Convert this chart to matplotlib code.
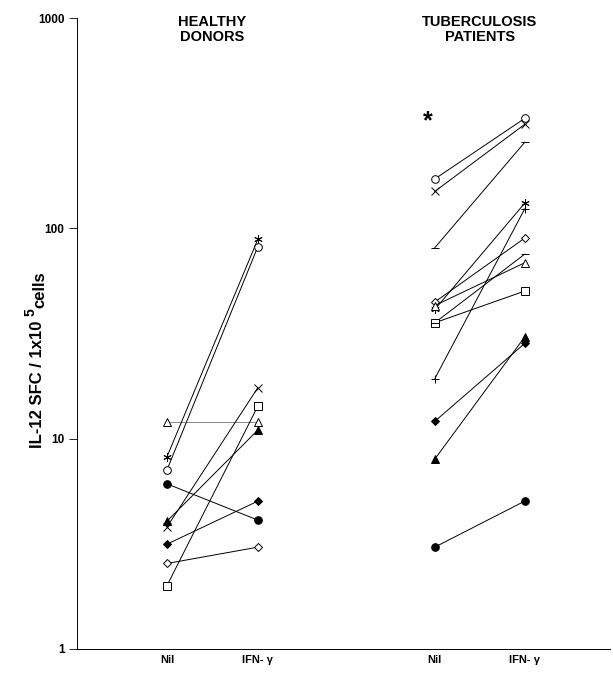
import matplotlib
matplotlib.use("Agg")
import matplotlib.pyplot as plt

plt.rcParams['font.family'] = ['Liberation Sans', 'DejaVu Sans']

# category labels along x
conditions = ['Nil', 'IFN- γ', 'Nil', 'IFN- γ']
groups = ['HEALTHY\nDONORS', 'TUBERCULOSIS\nPATIENTS']

# healthy donors: SFC without / with IFN-gamma
healthy_nil = [12, 8.2, 7.1, 6.1, 4.05, 3.8, 3.15, 2.55, 2.0]
healthy_ifn = [12, 89, 82, 4.1, 11, 17.5, 5.05, 3.05, 14.3]

# tuberculosis patients
tb_nil = [172, 150, 81, 44.7, 41.2, 43, 35.6, 35.6, 19.3, 12.1, 8.0, 3.05]
tb_ifn = [334, 313, 257, 90, 132, 68.7, 50.4, 75.5, 124, 28.4, 30.5, 5.05]

# marker per subject (marker, filled)
healthy_marks = [('^', False), ((6, 2, 0), False), ('o', False), ('o', True),
                 ('^', True), ('x', False), ('D', True), ('D', False), ('s', False)]
tb_marks = [('o', False), ('x', False), ('_', False), ('D', False), ((6, 2, 0), False),
            ('^', False), ('s', False), ('_', False), ('+', False), ('D', True),
            ('^', True), ('o', True)]

xpos = [0.9, 1.81, 3.58, 4.48]

fig = plt.figure(figsize=(6.13, 6.76), dpi=100)
ax = fig.add_axes([0.1256, 0.040, 0.869, 0.933])


def draw_group(nil, ifn, marks, x0, x1):
    for i, (a, b) in enumerate(zip(nil, ifn)):
        m, filled = marks[i]
        lc = '#888888' if a == b else 'black'
        ax.plot([x0, x1], [a, b], color=lc, lw=0.7, zorder=2)
        size = 5.5
        if m == 'D':
            size = 4
        if m in ('x', '+', '_') or isinstance(m, tuple):
            size = 6
        ax.plot([x0, x1], [a, b], linestyle='none', marker=m, markersize=size,
                markerfacecolor='black' if filled else 'white',
                markeredgecolor='black', markeredgewidth=0.7, zorder=3)


draw_group(healthy_nil, healthy_ifn, healthy_marks, xpos[0], xpos[1])
draw_group(tb_nil, tb_ifn, tb_marks, xpos[2], xpos[3])

ax.set_yscale('log')
ax.set_ylim(1, 1000)
ax.set_xlim(0, 5.33)
ax.set_yticks([1, 10, 100, 1000])
ax.set_yticklabels(['1', '10', '100', '1000'], fontsize=8.5, fontweight='bold')
ax.yaxis.set_minor_locator(matplotlib.ticker.NullLocator())
ax.tick_params(axis='y', direction='out', length=6, width=0.6, pad=3)
ax.set_xticks(xpos)
ax.set_xticklabels(conditions, fontsize=8, fontweight='bold')
ax.tick_params(axis='x', length=0, pad=4)

for s in ['top', 'right']:
    ax.spines[s].set_visible(False)
for s in ['left', 'bottom']:
    ax.spines[s].set_linewidth(0.7)

# y label built from pieces: main text, raised "5", lowered "cells"
W, H = 613, 676
renderer = fig.canvas.get_renderer()
base_x = 42
t1 = fig.text(base_x / W, 1 - 448 / H, 'IL-12 SFC / 1x10 ', rotation=90,
              rotation_mode='anchor', ha='left', va='baseline',
              fontsize=12, fontweight='bold')
top = t1.get_window_extent(renderer).y1
t2 = fig.text((base_x - 7) / W, top / H, '5', rotation=90, rotation_mode='anchor',
              ha='left', va='baseline', fontsize=10, fontweight='bold')
top2 = t2.get_window_extent(renderer).y1
fig.text((base_x + 2) / W, top2 / H, 'cells', rotation=90, rotation_mode='anchor',
         ha='left', va='baseline', fontsize=12, fontweight='bold')

for g, xa, xb in zip(groups, xpos[0::2], xpos[1::2]):
    ax.text((xa + xb) / 2, 1.005, g, transform=ax.get_xaxis_transform(),
            ha='center', va='top', fontsize=10.5, fontweight='bold', linespacing=1.1)

ax.text(3.51, 325, '*', ha='center', va='center', fontsize=18, fontweight='bold')

fig.savefig('out.png', dpi=100)
